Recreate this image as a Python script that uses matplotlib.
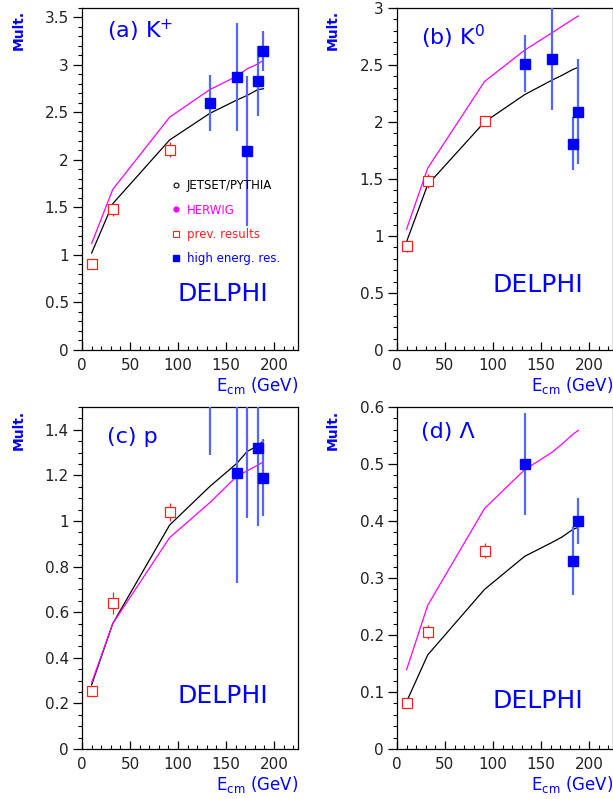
import matplotlib
matplotlib.use("Agg")
import matplotlib.pyplot as plt
from matplotlib.lines import Line2D
from matplotlib.ticker import MultipleLocator

plt.rcParams['mathtext.fontset'] = 'dejavusans'

# model curves share the same energies
e_model = [10, 32, 91.2, 133, 161, 172, 183, 189]
e_prev = [10, 32, 91.2]

# (a) K+
a_jetset = [1.02, 1.54, 2.21, 2.49, 2.63, 2.68, 2.74, 2.75]
a_herwig = [1.12, 1.69, 2.45, 2.74, 2.88, 2.96, 3.01, 3.05]
a_prev = [0.90, 1.48, 2.11]
a_prev_err = [0.02, 0.07, 0.08]
a_high_e = [133, 161, 172, 183, 189]
a_high = [2.60, 2.87, 2.09, 2.83, 3.15]
a_high_err = [0.29, 0.57, 0.79, 0.37, 0.21]

# (b) K0
b_jetset = [0.95, 1.45, 2.00, 2.24, 2.365, 2.41, 2.46, 2.48]
b_herwig = [1.06, 1.595, 2.355, 2.63, 2.78, 2.84, 2.90, 2.93]
b_prev = [0.91, 1.48, 2.01]
b_prev_err = [0.05, 0.06, 0.03]
b_high_e = [133, 161, 183, 189]
b_high = [2.51, 2.555, 1.81, 2.09]
b_high_err = [0.25, 0.45, 0.23, 0.46]

# (c) p
c_jetset = [0.281, 0.55, 0.982, 1.151, 1.252, 1.305, 1.33, 1.352]
c_herwig = [0.29, 0.55, 0.927, 1.08, 1.195, 1.22, 1.245, 1.26]
c_prev = [0.255, 0.64, 1.04]
c_prev_err = [0.01, 0.05, 0.04]
c_high_e = [133, 161, 172, 183, 189]
c_high = [1.62, 1.21, 1.60, 1.32, 1.19]
c_high_err = [0.33, 0.48, 0.585, 0.34, 0.17]

# (d) Lambda
d_jetset = [0.083, 0.165, 0.28, 0.338, 0.362, 0.372, 0.385, 0.389]
d_herwig = [0.139, 0.252, 0.422, 0.49, 0.52, 0.535, 0.552, 0.559]
d_prev = [0.080, 0.205, 0.348]
d_prev_err = [0.005, 0.012, 0.013]
d_high_e = [133, 183, 189]
d_high = [0.50, 0.33, 0.40]
d_high_err = [0.09, 0.06, 0.04]

BLUE = '#0000ff'
ERRBLUE = '#5566ff'
RED = '#ff2020'
MAG = '#ff00ff'

fig = plt.figure(figsize=(6.13, 7.99), dpi=100)

panels = [
    dict(rect=[0.1338, 0.5620, 0.3524, 0.4280], label=r"(a) K$^{+}$", lpos=(0.116, 0.934),
         ylim=3.6, major=0.5, minor=0.1, jet=a_jetset, her=a_herwig,
         prev=a_prev, prev_err=a_prev_err, he=a_high_e, hv=a_high, herr=a_high_err, dy=0.164),
    dict(rect=[0.6476, 0.5620, 0.3524, 0.4280], label=r"(b) K$^{0}$", lpos=(0.111, 0.914),
         ylim=3.0, major=0.5, minor=0.1, jet=b_jetset, her=b_herwig,
         prev=b_prev, prev_err=b_prev_err, he=b_high_e, hv=b_high, herr=b_high_err, dy=0.19),
    dict(rect=[0.1338, 0.0626, 0.3524, 0.4280], label="(c) p", lpos=(0.116, 0.913),
         ylim=1.5, major=0.2, minor=0.05, jet=c_jetset, her=c_herwig,
         prev=c_prev, prev_err=c_prev_err, he=c_high_e, hv=c_high, herr=c_high_err, dy=0.155),
    dict(rect=[0.6476, 0.0626, 0.3524, 0.4280], label="(d) Λ", lpos=(0.111, 0.927),
         ylim=0.6, major=0.1, minor=0.02, jet=d_jetset, her=d_herwig,
         prev=d_prev, prev_err=d_prev_err, he=d_high_e, hv=d_high, herr=d_high_err, dy=0.141),
]

axes = []
for p in panels:
    ax = fig.add_axes(p['rect'])
    axes.append(ax)
    ax.set_xlim(0, 225)
    ax.set_ylim(0, p['ylim'])

    ax.plot(e_model, p['jet'], color='black', lw=0.9, zorder=2)
    ax.plot(e_model, p['her'], color=MAG, lw=0.9, zorder=2)

    ax.errorbar(e_prev, p['prev'], yerr=p['prev_err'], fmt='s', ms=7.5, mfc='white',
                mec=RED, mew=0.9, ecolor=RED, elinewidth=0.9, capsize=0, zorder=3)
    ax.errorbar(p['he'], p['hv'], yerr=p['herr'], fmt='s', ms=6.5, mfc=BLUE,
                mec=BLUE, ecolor=ERRBLUE, elinewidth=1.6, capsize=0, zorder=4)

    ax.xaxis.set_major_locator(MultipleLocator(50))
    ax.xaxis.set_minor_locator(MultipleLocator(10))
    ax.yaxis.set_major_locator(MultipleLocator(p['major']))
    ax.yaxis.set_minor_locator(MultipleLocator(p['minor']))
    ax.yaxis.set_major_formatter(plt.FuncFormatter(lambda v, pos: "{:g}".format(round(v, 3))))
    ax.tick_params(axis='x', which='major', direction='in', length=6, width=0.9,
                   pad=6, labelsize=11, labelcolor='#222222')
    ax.tick_params(axis='x', which='minor', direction='in', length=3, width=0.8)
    ax.tick_params(axis='y', which='major', direction='out', length=6.5, width=0.9,
                   pad=3, labelsize=11, labelcolor='#222222')
    ax.tick_params(axis='y', which='minor', direction='out', length=3, width=0.8)
    for s in ax.spines.values():
        s.set_linewidth(0.9)

    ax.text(p['lpos'][0], p['lpos'][1], p['label'], transform=ax.transAxes, color=BLUE,
            fontsize=16, ha='left', va='center')
    ax.text(0.653, p['dy'], "DELPHI", transform=ax.transAxes, color=BLUE,
            fontsize=18, ha='center', va='center')
    ax.text(1.0, -0.104, r"E$_{\mathrm{cm}}$ (GeV)", transform=ax.transAxes, color=BLUE,
            fontsize=12, ha='right', va='center')

# y-axis labels
for xp, yp in [(19, 30), (333, 30), (19, 430), (333, 430)]:
    fig.text(xp / 613, 1 - yp / 799, "Mult.", rotation=90, color=BLUE, fontsize=10,
             fontweight='bold', ha='center', va='center')

# legend in panel (a)
handles = [
    Line2D([], [], ls='none', marker='o', ms=3.5, mfc='none', mec='black', mew=0.8),
    Line2D([], [], ls='none', marker='o', ms=3.5, mfc=MAG, mec=MAG),
    Line2D([], [], ls='none', marker='s', ms=4, mfc='none', mec=RED, mew=0.8),
    Line2D([], [], ls='none', marker='s', ms=4, mfc=BLUE, mec=BLUE),
]
labels = ["JETSET/PYTHIA", "HERWIG", "prev. results", "high energ. res."]
axes[0].legend(handles, labels, loc='upper left', bbox_to_anchor=(0.42, 0.499),
               frameon=False, fontsize=8.5, handlelength=0.6, handletextpad=0.6,
               labelspacing=0.95, borderpad=0, borderaxespad=0,
               labelcolor=['black', MAG, RED, BLUE])

fig.savefig("out.png", dpi=100)
